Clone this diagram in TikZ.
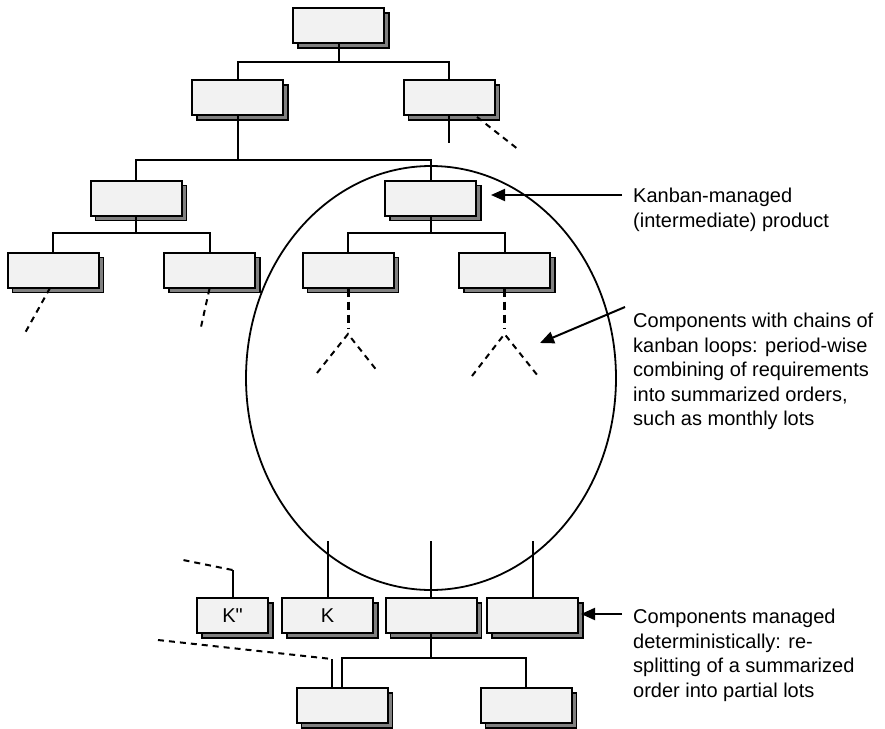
\documentclass[tikz,border=0pt]{standalone}
\usepackage{fontspec}
\setmainfont{Liberation Sans}
\newfontfamily\kfont{Liberation Sans}
\usetikzlibrary{shadows,arrows.meta}
\begin{document}
\begin{tikzpicture}[x=1pt,y=-1pt,
  bx/.style={draw=black, line width=2pt, fill=black!5, minimum width=91pt, minimum height=35pt, inner sep=0pt,
     general shadow={fill=gray, draw=black, line width=1.2pt, shadow xshift=5pt, shadow yshift=-5pt}},
  sbx/.style={bx, minimum width=71pt},
  conn/.style={line width=2pt},
  dsh/.style={line width=2pt, dash pattern=on 6pt off 5pt},
  tdsh/.style={line width=3pt, dash pattern=on 8pt off 5pt},
  arr/.style={line width=2pt, -{Triangle[length=14pt,width=12pt]}},
  lbl/.style={anchor=north west, align=left, inner sep=0pt, font=\fontsize{20}{24.5}\selectfont},
  klbl/.style={font=\fontsize{20}{24}\selectfont}
]
\useasboundingbox (0,0) rectangle (885,728);

% ellipse
\draw[line width=1.8pt] (431,378) ellipse [x radius=185, y radius=212];

% tree boxes
\node[bx] (top) at (338.5,25.5) {};
\node[bx] (l2a) at (237.5,97.5) {};
\node[bx] (l2b) at (449,97.5) {};
\node[bx] (l3a) at (136,198) {};
\node[bx] (l3b) at (430.5,198) {};
\node[bx] (l4a) at (53,270) {};
\node[bx] (l4b) at (209.5,270) {};
\node[bx] (l4c) at (348,270) {};
\node[bx] (l4d) at (504.5,270) {};

% bottom boxes
\node[sbx,klbl] (kk) at (232.5,615.5) {\kfont K"};
\node[bx,klbl] (k) at (327.5,615.5) {K};
\node[bx] (b3) at (431,615.5) {};
\node[bx] (b4) at (532.5,615.5) {};
\node[bx] (b5) at (342,705.5) {};
\node[bx] (b6) at (526,705.5) {};

% junctions
\coordinate (j1) at (338.5,62);
\coordinate (j2) at (237.5,160);
\coordinate (j3) at (136,233);
\coordinate (j4) at (430.5,233);
\coordinate (j5) at (431,658);

\draw[conn] (top.south) -- (j1);
\draw[conn] (l2a.north) |- (j1) -| (l2b.north);
\draw[conn] (l2a.south) -- (j2);
\draw[conn] (l3a.north) |- (j2) -| (l3b.north);
\draw[conn] (l3a.south) -- (j3);
\draw[conn] (l4a.north) |- (j3) -| (l4b.north);
\draw[conn] (l3b.south) -- (j4);
\draw[conn] (l4c.north) |- (j4) -| (l4d.north);

% stubs and dashed continuations
\coordinate (s2b) at (449,143);
\draw[conn] (l2b.south) -- (s2b);
\coordinate (d2a) at (477,117);
\coordinate (d2b) at (519,150);
\draw[dsh] (d2a) -- (d2b);

\coordinate (d4a0) at (50,288);
\coordinate (d4a) at (25,333);
\draw[dsh] (d4a0) -- (d4a);
\coordinate (d4b) at (201,327);
\draw[dsh] (l4b.south) -- (d4b);

\coordinate (apc) at (348,334);
\coordinate (vcl) at (317,373);
\coordinate (vcr) at (378,372);
\draw[tdsh] (l4c.south) -- (348,328);
\draw[dsh] (vcl) -- (apc) -- (vcr);

\coordinate (apd) at (504.5,334);
\coordinate (vdl) at (472,376);
\coordinate (vdr) at (538,376);
\draw[tdsh] (l4d.south) -- (504.5,328);
\draw[dsh] (vdl) -- (apd) -- (vdr);

% bottom connectors
\coordinate (tk) at (327.5,541);
\coordinate (t3) at (431,541);
\coordinate (t4) at (532.5,541);
\draw[conn] (tk) -- (k.north);
\draw[conn] (t3) -- (b3.north);
\draw[conn] (t4) -- (b4.north);

\coordinate (kkc) at (232.5,570);
\coordinate (kkd) at (183,560);
\draw[conn] (kk.north) -- (kkc);
\draw[dsh] (kkc) -- (kkd);

\draw[conn] (b3.south) -- (j5);
\draw[conn] (b5.north) |- (j5) -| (b6.north);

\coordinate (bd1) at (158,640);
\coordinate (bd2) at (332,659);
\coordinate (bd3) at (332,688);
\draw[dsh] (bd1) -- (bd2);
\draw[conn] (bd2) -- (bd3);

% labels
\node[lbl] (t1) at (633,188) {Kanban-managed\\(intermediate) product};
\node[lbl] (t2) at (633,313) {Components with chains of\\kanban loops: period-wise\\combining of requirements\\into summarized orders,\\such as monthly lots};
\node[lbl] (t3l) at (633,609) {Components managed\\deterministically: re-\\splitting of a summarized\\order into partial lots};

% arrows
\coordinate (a1s) at (622,195);
\coordinate (a1e) at (491,195);
\draw[arr] (a1s) -- (a1e);
\coordinate (a2s) at (625,307);
\coordinate (a2e) at (540,343);
\draw[arr] (a2s) -- (a2e);
\coordinate (a3s) at (622,614);
\coordinate (a3e) at (581,614);
\draw[arr] (a3s) -- (a3e);
\end{tikzpicture}
\end{document}
